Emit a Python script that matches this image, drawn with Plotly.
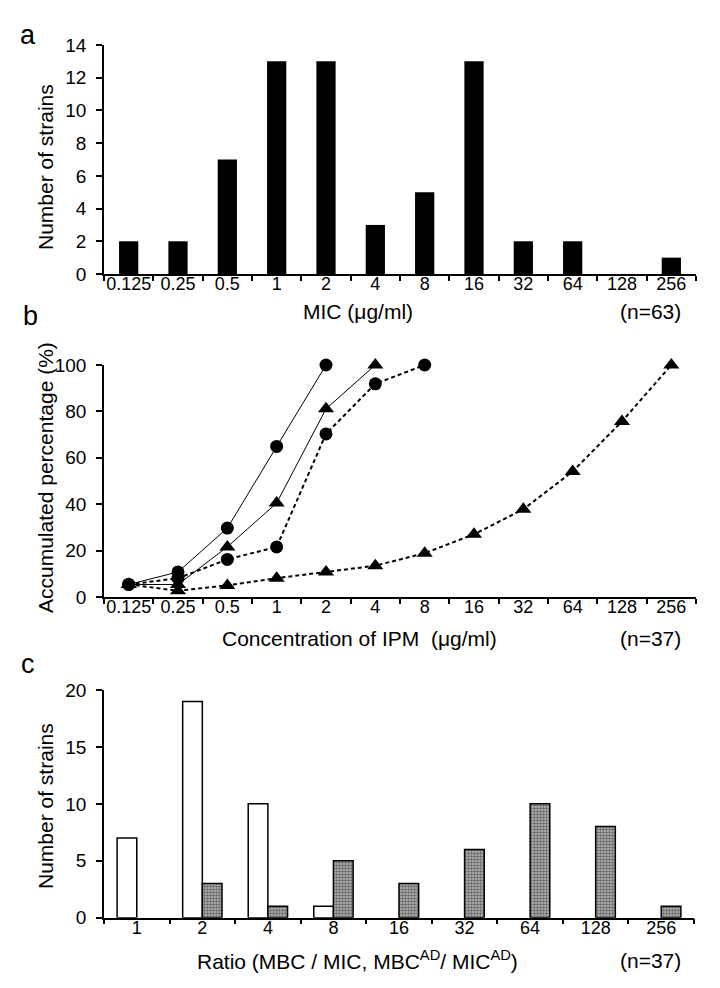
import plotly.graph_objects as go

# ---------------- data ----------------
mic_labels = ["0.125", "0.25", "0.5", "1", "2", "4", "8", "16", "32", "64", "128", "256"]
mic_counts = [2, 2, 7, 13, 13, 3, 5, 13, 2, 2, 0, 1]

conc_labels = ["0.125", "0.25", "0.5", "1", "2", "4", "8", "16", "32", "64", "128", "256"]
solid_circle = [5.4, 10.8, 29.7, 64.9, 100]
solid_triangle = [5.4, 5.4, 21.6, 40.5, 81.1, 100]
dashed_circle = [5.4, 8.1, 16.2, 21.6, 70.3, 91.9, 100]
dashed_triangle = [5.4, 2.7, 5.0, 8.1, 10.8, 13.5, 18.9, 27.0, 37.8, 54.1, 75.7, 100]

ratio_labels = ["1", "2", "4", "8", "16", "32", "64", "128", "256"]
ratio_white = [7, 19, 10, 1, 0, 0, 0, 0, 0]
ratio_pattern = [0, 3, 1, 5, 3, 6, 10, 8, 1]

# ---------------- layout constants ----------------
# the page body has an 8px default margin, so the figure is sized to fit inside
# the 720x988 window without overflowing
OFF = 8
W, H = 720 - 2 * OFF, 988 - 2 * OFF
FONT = "Liberation Sans, Arial, sans-serif"
XTICKF = dict(family=FONT, size=18, color="black")
YTICKF = dict(family=FONT, size=19, color="black")


def px(v):
    return (v - OFF) / W


def py(v):
    return 1 - (v - OFF) / H


def nz(vals):
    # zero-height bars are not drawn in the reference
    return [v if v > 0 else None for v in vals]


fig = go.Figure()

# panel a
fig.add_trace(go.Bar(x=mic_labels, y=nz(mic_counts), width=0.39,
                     marker=dict(color="black", line=dict(width=0)),
                     xaxis="x", yaxis="y", showlegend=False))

# panel b
def line_trace(vals, symbol, dash, width, size):
    return go.Scatter(x=conc_labels[:len(vals)], y=vals, mode="lines+markers",
                      line=dict(color="black", dash=dash, width=width),
                      marker=dict(symbol=symbol, size=size, color="black"),
                      xaxis="x2", yaxis="y2", showlegend=False, cliponaxis=False)

fig.add_trace(line_trace(dashed_triangle, "triangle-up", "4px,3px", 2, 14))
fig.add_trace(line_trace(dashed_circle, "circle", "4px,3px", 2, 13))
fig.add_trace(line_trace(solid_triangle, "triangle-up", "solid", 1, 14))
fig.add_trace(line_trace(solid_circle, "circle", "solid", 1, 13))

# panel c
fig.add_trace(go.Bar(x=ratio_labels, y=nz(ratio_white), width=0.3, offset=-0.3,
                     marker=dict(color="white", line=dict(color="black", width=1.5)),
                     xaxis="x3", yaxis="y3", showlegend=False))
fig.add_trace(go.Bar(x=ratio_labels, y=nz(ratio_pattern), width=0.3, offset=0.0,
                     marker=dict(color="#999999", line=dict(color="black", width=1.5),
                                 pattern=dict(shape=".", fgcolor="#111111", bgcolor="#bbbbbb",
                                              size=3, solidity=0.55)),
                     xaxis="x3", yaxis="y3", showlegend=False))

xcommon = dict(type="category", showline=True, linecolor="black", linewidth=1.5,
               ticks="outside", tickson="boundaries", ticklen=5, tickcolor="black",
               tickwidth=1.5, tickfont=XTICKF, tickangle=0, showgrid=False, zeroline=False,
               fixedrange=True, ticklabelstandoff=-7, automargin=False)
ycommon = dict(showline=True, linecolor="black", linewidth=1.5, ticks="outside",
               ticklen=6, tickcolor="black", tickwidth=1.5, tickfont=YTICKF,
               showgrid=False, zeroline=False, ticklabelstandoff=6, automargin=False)

fig.update_layout(
    width=W, height=H, margin=dict(l=0, r=0, t=0, b=0, pad=0), autosize=False,
    paper_bgcolor="white", plot_bgcolor="white",
    font=dict(family=FONT, color="black"),
    barmode="overlay",
    xaxis=dict(xcommon, domain=[px(104), px(696)], anchor="y",
               categoryorder="array", categoryarray=mic_labels, range=[-0.5, 11.5]),
    yaxis=dict(ycommon, domain=[py(274), py(45)], anchor="x", range=[0, 14], dtick=2),
    xaxis2=dict(xcommon, domain=[px(104), px(696)], anchor="y2",
                categoryorder="array", categoryarray=conc_labels, range=[-0.5, 11.5]),
    yaxis2=dict(ycommon, domain=[py(597), py(365)], anchor="x2", range=[0, 100], dtick=20),
    xaxis3=dict(xcommon, domain=[px(104), px(694)], anchor="y3",
                categoryorder="array", categoryarray=ratio_labels, range=[-0.5, 8.5]),
    yaxis3=dict(ycommon, domain=[py(917.7), py(690)], anchor="x3", range=[0, 20], dtick=5),
)

ann = []
def add_text(text, x, y, size=21, xanchor="center", angle=0):
    ann.append(dict(text=text, x=px(x), y=py(y), xref="paper", yref="paper",
                    xanchor=xanchor, yanchor="middle", showarrow=False, textangle=angle,
                    font=dict(family=FONT, size=size, color="black")))

# panel letters
add_text("a", 28, 35, size=27)
add_text("b", 30, 316, size=27)
add_text("c", 28, 664, size=27)
# y titles
add_text("Number of strains", 45, 167, angle=-90)
add_text("Accumulated percentage (%)", 45, 478, angle=-90)
add_text("Number of strains", 45, 806, angle=-90)
# x titles
add_text("MIC (μg/ml)", 358, 311)
add_text("(n=63)", 683, 311, xanchor="right")
add_text("Concentration of IPM  (μg/ml)", 359, 638)
add_text("(n=37)", 683, 638, xanchor="right")
add_text("Ratio (MBC / MIC, MBC<sup>AD</sup>/ MIC<sup>AD</sup>)", 357, 960)
add_text("(n=37)", 683, 960, xanchor="right")
fig.update_layout(annotations=ann)

fig.write_html("out.html")
